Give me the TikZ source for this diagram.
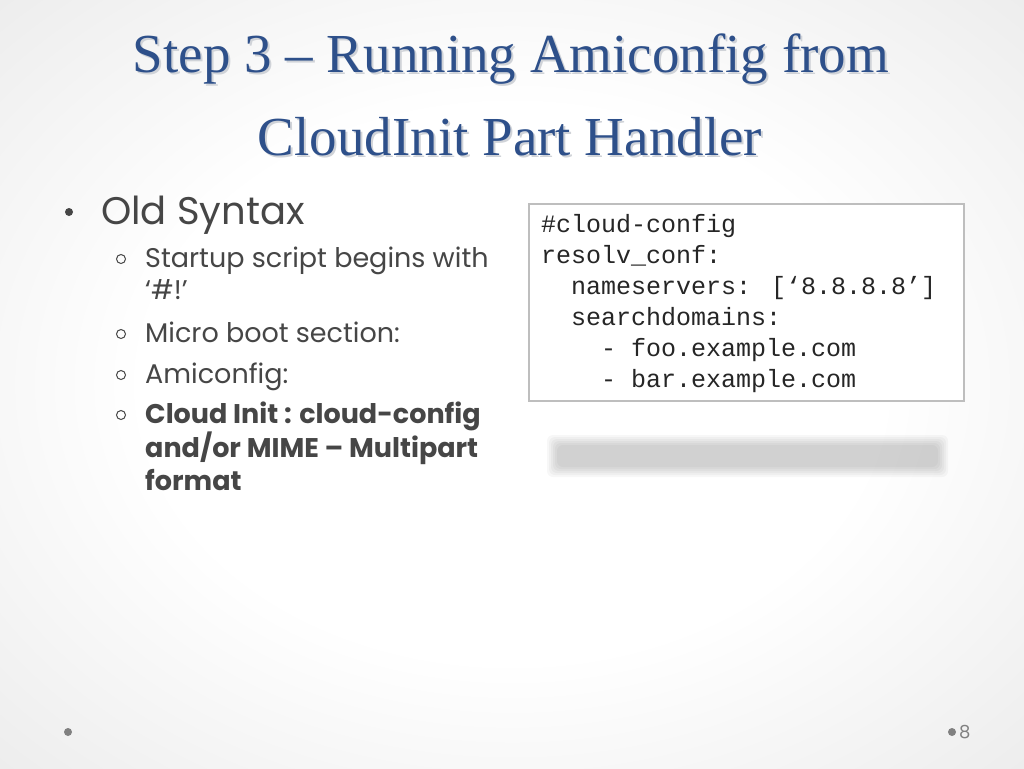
\documentclass[tikz,border=0pt]{standalone}
\usepackage{fontspec}
\newfontfamily\titlefont{Liberation Serif}
\newfontfamily\bodyfont{Poppins}
\newfontfamily\codefont{Liberation Mono}
\definecolor{titleblue}{RGB}{46,80,138}
\definecolor{bodygray}{RGB}{70,70,70}
\definecolor{boxline}{RGB}{190,190,190}
\definecolor{dotgray}{RGB}{128,128,128}
\definecolor{shadowgray}{RGB}{208,211,216}
\pgfdeclareradialshading{slidebg}{\pgfpoint{0bp}{0bp}}{color(0bp)=(white); color(18bp)=(white); color(50bp)=(black!13); color(75bp)=(black!21)}
\newcommand{\shadowed}[1]{\makebox[0pt][l]{\hspace*{2pt}\raisebox{-2.5pt}{\textcolor{shadowgray}{#1}}}#1}
\tikzset{
  titletext/.style={font=\titlefont\fontsize{55}{60}\selectfont, text=titleblue, inner sep=0pt},
  lvlone/.style={font=\bodyfont\fontsize{38.5}{42}\selectfont, text=bodygray, inner sep=0pt, anchor=base west},
  lvltwo/.style={font=\bodyfont\fontsize{27}{30}\selectfont, text=bodygray, inner sep=0pt, anchor=base west},
  lvltwob/.style={font=\bodyfont\bfseries\fontsize{27}{30}\selectfont, text=bodygray, inner sep=0pt, anchor=base west},
  omark/.style={circle, draw=bodygray, line width=1pt, minimum size=9pt, inner sep=0pt},
  codetext/.style={font=\codefont\fontsize{25}{30}\selectfont, text=black!85, inner sep=0pt, anchor=base west},
  codebox/.style={draw=boxline, line width=1.2pt, fill=white},
  footdot/.style={circle, fill=dotgray, minimum size=8pt, inner sep=0pt}
}
\begin{document}
\begin{tikzpicture}[x=1pt,y=-1pt]
\shade[shading=slidebg] (0,0) rectangle (1024,768);
\useasboundingbox (0,0) rectangle (1024,768);
% title
\node[titletext, anchor=base] (t1) at (511,72) {\shadowed{Step 3 – Running Amiconfig from}};
\node[titletext, anchor=base] (t2) at (510,155) {\shadowed{CloudInit Part Handler}};
% bullets
\node[circle, fill=bodygray, minimum size=8pt, inner sep=0pt] (b0) at (69,212) {};
\node[lvlone] (l0) at (101,224) {Old Syntax};
\node[omark] (o1) at (121,259) {};
\node[lvltwo] (l1) at (145,267) {Startup script begins with};
\node[lvltwo] (l1b) at (145,299) {‘\#!’};
\node[omark] (o2) at (121,334) {};
\node[lvltwo] (l2) at (145,342) {Micro boot section:};
\node[omark] (o3) at (121,375) {};
\node[lvltwo] (l3) at (145,383) {Amiconfig:};
\node[omark] (o4) at (121,415) {};
\node[lvltwob] (l4) at (145,423) {Cloud Init : cloud-config};
\node[lvltwob] (l4b) at (145,457) {and/or MIME – Multipart};
\node[lvltwob] (l4c) at (145,490) {format};
% code box
\draw[codebox] (529,204) rectangle (964,401);
\node[codetext] (c1) at (541,232) {\#cloud-config};
\node[codetext] (c2) at (541,263) {resolv\_conf:};
\node[codetext] (c3) at (541,294) {\ \ nameservers: [‘8.8.8.8’]};
\node[codetext] (c4) at (541,325) {\ \ searchdomains:};
\node[codetext] (c5) at (541,356) {\ \ \ \ - foo.example.com};
\node[codetext] (c6) at (541,387) {\ \ \ \ - bar.example.com};
% blurred bar
\foreach \d in {10,8,6,4,2,0}{
  \fill[black, opacity=0.03, rounded corners=6pt] (557-\d,445-\d) rectangle (938+\d,467+\d);
}
% footer
\node[footdot] (f1) at (68,732) {};
\node[footdot] (f2) at (952,732) {};
\node[font=\bodyfont\fontsize{18}{20}\selectfont, text=dotgray, anchor=west, inner sep=0pt] (pg) at (959,732) {8};
\end{tikzpicture}
\end{document}
